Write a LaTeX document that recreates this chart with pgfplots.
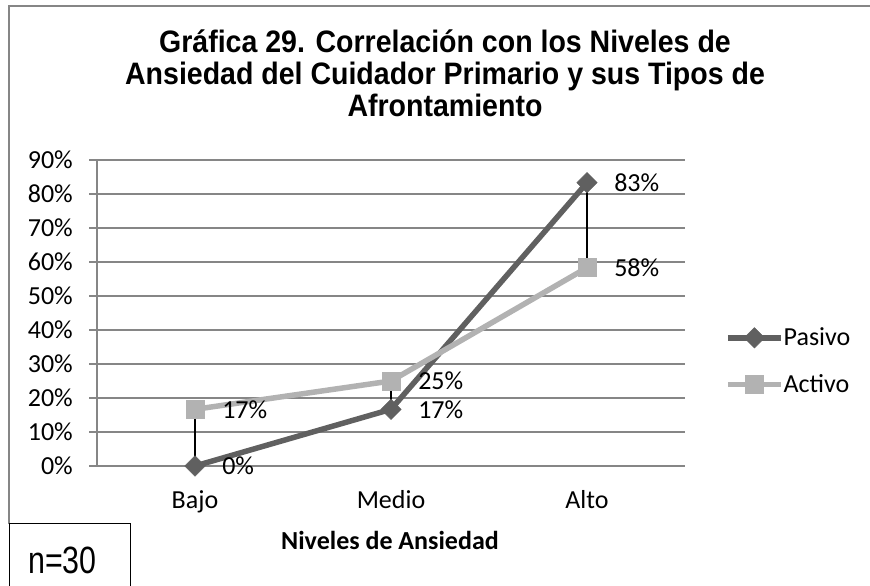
\documentclass[border=0pt]{standalone}
\usepackage{pgfplots}
\pgfplotsset{compat=1.18}
\usepackage{fontspec}
\usepackage{graphicx}
\setmainfont{Carlito}
\newfontfamily\arialfont{Liberation Sans}
\definecolor{pasivo}{RGB}{96,96,96}
\definecolor{activo}{RGB}{178,178,178}
\definecolor{gridgray}{RGB}{134,134,134}
\newcommand{\calf}{\fontsize{26bp}{31bp}\selectfont}
\newcommand{\titf}{\arialfont\bfseries\fontsize{31bp}{34bp}\selectfont}
\newcommand{\tline}[1]{\scalebox{0.92}[1]{\titf #1}}
\begin{document}
\begin{tikzpicture}[x=1bp,y=1bp]
\path[use as bounding box] (0,0) rectangle (870,586);
% outer frame
\draw[gridgray, line width=2bp] (8.5,62) -- (8.5,580) -- (870,580);
% title
\node[anchor=base, inner sep=0pt] at (445,533) {\tline{Gráfica 29. Correlación con los Niveles de}};
\node[anchor=base, inner sep=0pt] at (445,501) {\tline{Ansiedad del Cuidador Primario y sus Tipos de}};
\node[anchor=base, inner sep=0pt] at (445,469) {\tline{Afrontamiento}};
\begin{axis}[
  at={(97bp,120bp)}, anchor=south west,
  scale only axis, width=588bp, height=306bp,
  xmin=-0.5, xmax=2.5, ymin=0, ymax=90,
  clip=false,
  axis x line*=bottom, axis y line*=left,
  axis line style={gridgray, line width=1.5bp, -},
  xtick={0,1,2}, xticklabels={Bajo,Medio,Alto},
  ytick={0,10,20,30,40,50,60,70,80,90},
  yticklabels={0\%,10\%,20\%,30\%,40\%,50\%,60\%,70\%,80\%,90\%},
  ymajorgrids, grid style={gridgray, line width=1.5bp},
  major tick length=8bp, tick align=outside,
  y tick style={gridgray, line width=1.5bp},
  x tick style={draw=none},
  ticklabel style={font=\calf, text=black},
  yticklabel style={anchor=east, inner sep=0pt, xshift=-16bp},
  xticklabel style={anchor=base, inner sep=0pt, yshift=-35bp},
  legend style={at={(1.068,0.343)}, anchor=west, draw=none, fill=none,
    font=\calf, row sep=27bp, inner sep=0pt,
    nodes={inner sep=0pt},
    /tikz/every even column/.append style={column sep=6bp}},
  legend cell align=left,
  legend image code/.code={\draw[#1, mark repeat=2, mark phase=2] plot coordinates {(0bp,0bp) (26.5bp,0bp) (53bp,0bp)};},
  every node near coord/.append style={font=\calf, text=black, anchor=west, inner sep=0pt, xshift=27bp},
]
\addplot[pasivo, line width=5.5bp, mark=square*, mark size=7.2bp,
  mark options={rotate=45, solid, fill=pasivo, draw=pasivo, line width=0.5bp},
  point meta=explicit symbolic, nodes near coords]
  coordinates {(0,0) [0\%] (1,16.67) [17\%] (2,83.33) [83\%]};
\addplot[activo, line width=5.5bp, mark=square*, mark size=9bp,
  mark options={solid, fill=activo, draw=activo, line width=0.5bp},
  point meta=explicit symbolic, nodes near coords]
  coordinates {(0,16.67) [17\%] (1,25) [25\%] (2,58.33) [58\%]};
\legend{Pasivo, Activo}
\addplot[black, line width=1.5bp, forget plot] coordinates {(0,0) (0,16.67)};
\addplot[black, line width=1.5bp, forget plot] coordinates {(1,16.67) (1,25)};
\addplot[black, line width=1.5bp, forget plot] coordinates {(2,58.33) (2,83.33)};
\end{axis}
% axis title
\node[font=\calf\bfseries, anchor=base] at (390,36) {Niveles de Ansiedad};
% n=30 box
\draw[black, line width=1bp] (9.5,-5) rectangle (130,62);
\node[anchor=base, inner sep=0pt] at (62.5,12) {\scalebox{0.8}[1]{\arialfont\fontsize{38bp}{40bp}\selectfont n=30}};
\end{tikzpicture}
\end{document}
